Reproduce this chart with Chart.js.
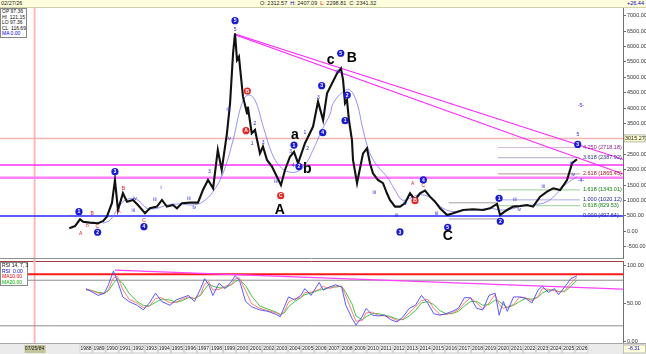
<!DOCTYPE html>
<html>
<head>
<meta charset="utf-8">
<script src="https://cdn.jsdelivr.net/npm/chart.js@4.4.1/dist/chart.umd.min.js"></script>
<style>
  body { margin:0; width:646px; height:354px; overflow:hidden; background:#fff; position:relative;
         font-family:"Liberation Sans", Arial, sans-serif; }
  #hdr { position:absolute; left:0; top:0; width:646px; height:8px; background:#ffffdc;
         border-bottom:1px solid #d0d0a8; box-sizing:border-box; font-size:5.5px; line-height:7px; color:#222; }
  #hdr span { position:absolute; top:0; white-space:nowrap; }
  canvas { position:absolute; left:0; }
  #cvMain { top:8px; }
  #cvRsi { top:259px; }
  .box { position:absolute; background:#fff; border:1px solid #888; font-size:5px; line-height:5.6px;
         padding:0 1px; white-space:nowrap; color:#111; }
</style>
</head>
<body>
<div id="hdr">
  <span style="left:1px">02/27/26</span>
  <span style="left:260px">O: 2312.57 &nbsp;<b style="color:#0000c0;font-weight:normal">H:</b> 2407.09 &nbsp;<b style="color:#d00000;font-weight:normal">L:</b> 2298.81 &nbsp;C: 2341.32</span>
  <span style="left:627px;color:#0000c0">+26.44</span>
</div>
<canvas id="cvMain" width="646" height="251"></canvas>
<canvas id="cvRsi" width="646" height="95"></canvas>
<div class="box" style="left:0;top:8px;width:23px">OP 97.36<br>HI &nbsp;121.15<br>LO 97.36<br>CL &nbsp;116.69<br><span style="color:#0000e0">MA 0.00</span></div>
<div class="box" style="left:0;top:262px;width:24px">RSI 14, 7, 3<br><span style="color:#0000e0">RSI &nbsp;0.00</span><br><span style="color:#e00000">MA10.00</span><br><span style="color:#00b000">MA20.00</span></div>
<script>
const priceX = [1987.22,1987.66,1988.04,1988.27,1988.8,1989.42,1989.8,1990.1,1990.49,1990.72,1990.95,1991.33,1991.64,
  1992.1,1992.48,1993.02,1993.4,1993.94,1994.32,1994.7,1995.16,1995.47,1995.85,1996.47,1997.08,1997.46,1997.85,
  1998.24,1998.6,1998.9,1999.3,1999.54,1999.77,1999.92,2000.07,2000.22,2000.53,2000.84,2000.9,2001.2,2001.45,
  2001.83,2002.06,2002.37,2002.75,2003.13,2003.44,2003.75,2004.13,2004.44,2004.75,2005.28,2005.9,2006.28,2006.67,
  2006.97,2007.36,2007.74,2008.04,2008.2,2008.35,2008.5,2008.65,2008.88,2008.96,2009.27,2009.42,2009.73,2010.03,
  2010.26,2010.49,2010.87,2011.26,2011.56,2011.79,2012.18,2012.56,2012.94,2013.33,2013.71,2014.09,2014.48,2014.86,
  2015.25,2015.63,2016.17,2016.63,2017.4,2018.16,2018.93,2019.46,2020.0,2020.23,2020.77,2021.23,2021.76,2022.3,
  2022.76,2023.3,2023.83,2024.3,2024.83,2025.36,2025.75,2026.12];
const priceY = [97,170,390,312,280,260,330,474,920,1666,690,1234,960,
  1016,854,585,747,800,1016,800,854,747,909,930,930,1340,1666,
  1396,2640,1990,3180,4156,5780,6430,5560,5670,4370,3830,4045,3180,3290,
  2530,2750,2315,2100,1770,1500,1990,2420,2580,2210,2860,3400,4210,3610,
  4480,4805,5130,5290,4910,4156,4260,3610,2960,2315,1560,1883,2530,2695,
  2210,1883,1666,1560,1234,1016,800,800,909,1234,1016,1234,1320,1124,
  960,747,530,585,692,715,692,747,887,530,692,800,822,854,
  800,1124,1285,1396,1340,1666,2210,2341];

// ---- moving average on price ----
const maX = [1989.8,1990.34,1990.87,1991.33,1992.1,1992.64,1993.17,1993.94,1994.7,1995.7,1996.7,1997.46,1998.23,
  1999.0,1999.77,2000.45,2000.92,2001.45,2002.08,2002.75,2003.37,2003.98,2004.67,2005.28,2005.9,2006.58,2007.2,
  2007.43,2008.19,2008.73,2009.27,2009.73,2010.26,2010.87,2011.56,2012.18,2012.72,2013.33,2013.94,2014.63,2015.25,
  2015.86,2016.63,2017.4,2018.47,2019.46,2020.23,2021.0,2021.76,2022.76,2023.83,2024.6,2025.36,2026.12];
const maY = [260,360,690,960,1070,960,747,747,854,887,854,960,1285,
  1883,2960,4155,4425,4260,3400,2530,2100,1935,1935,2152,2640,3290,3800,
  4150,4530,4590,4155,3290,2530,2100,1770,1340,1016,1070,1180,1146,960,
  747,640,692,692,747,692,715,800,854,960,1234,1560,1770];

// ---- horizontal levels and trend lines ----
const levelVals = [3015.27, 2150, 1740, 497.64];
const trendX = [1999.92, 2029.65];
const trend1Y = [6406, 2338];
const trend2Y = [6380, 1860];

// ---- fibonacci extension ----
const fibX = [2020.07, 2026.35];
const fibRatio = ['4.250','3.618','2.618','1.618','1.000','0.618','0.000'];
const fibPrice = [2718.18, 2387.92, 1865.45, 1343.01, 1020.12, 829.53, 497.64];
const anchorX = [2016.3, 2020.0];
const anchorY = [925, 400];

// ---- wave labels ----
const blueX = [1987.96,1989.39,1990.72,1992.94,1999.92,2004.44,2004.82,2006.56,2006.64,2008.02,2008.52,2008.35,
  2012.56,2014.35,2016.22,2020.15,2020.25,2026.18];
const blueY = [636,-32,1935,150,6840,2800,2100,4727,3201,5780,4425,3590,-20,1666,130,1070,325,2820];
const blueT = ['1','2','3','4','5','1','2','3','4','5','2','1','3','4','5','1','2','3'];
const redX = [2000.86,2000.76,2003.42,2013.71];
const redY = [4555,3266,1156,994];
const redT = ['B','A','C','B'];
const bigX = [2003.36,2004.51,2005.46,2007.25,2008.86,2016.22];
const bigY = [690,3127,2025,5560,5617,-150];
const bigT = ['A','a','b','c','B','C'];
const smallX = [1999.4,1999.48,1997.95,1996.39,1996.8,1994.25,1993.79,1992.25,1992.12,2001.45,2001.24,2002.08,
  2003.06,2004.18,2004.38,2005.28,2005.49,2006.3,2007.75,2010.59,2012.31,2012.94,2015.37,2021.37,2021.7,
  2023.54,2025.72,2025.84,2026.43,2026.2,2026.43,1999.92];
const smallY = [3940,2997,1935,1070,766,1417,1016,1070,669,3480,2860,2880,
  1610,2585,2120,3210,2695,4350,5180,1265,500,910,585,1016,715,
  1450,2210,1830,4070,3127,1643,6560];
const smallT = ['iii','iv','3','iii','iv','i','iii','iv','iii','2','1','3',
  'iii','3','4','1','2','3','iii','iii','iii','iv','iii','iii','iv',
  'iii','iii','iv','-5-','5','-4-','5'];
const redTxtX = [1988.09,1988.98,1989.36,1988.6,1991.03,1991.36,1992.94,2013.53,2014.35];
const redTxtY = [-66,560,150,172,636,1396,334,1536,1480];
const redTxtT = ['A','B','C','b','A','B','C','A','C'];

// ---- RSI pane ----
const rsiX = [1988.5,1988.81,1989.44,1989.91,1990.22,1990.6,1990.91,1991.32,1991.79,1992.42,1992.89,1993.36,1993.83,
  1994.3,1994.93,1995.4,1995.87,1996.34,1996.81,1997.28,1997.59,1997.91,1998.22,1998.69,1999.16,1999.63,1999.94,
  2000.26,2000.73,2001.2,2001.82,2002.45,2003.08,2003.39,2003.7,2004.02,2004.49,2004.96,2005.27,2005.74,2006.37,
  2006.68,2007.15,2007.62,2008.09,2008.41,2008.88,2009.19,2009.66,2009.97,2010.45,2010.92,2011.39,2011.86,2012.33,
  2012.8,2013.27,2013.74,2014.21,2014.68,2015.15,2015.62,2016.09,2016.56,2017.03,2017.5,2017.97,2018.44,2018.91,
  2019.38,2019.85,2020.16,2020.48,2020.79,2021.26,2021.73,2022.2,2022.67,2023.14,2023.46,2023.93,2024.4,2024.71,
  2025.18,2025.65,2026.12];
const rsiY = [69,66,60,63,74,92,79,58,52,47,41,50,63,52,47,54,57,60,52,69,82,74,60,76,69,78,86,
  80,52,45,41,39,35,32,45,58,54,60,69,60,77,67,71,74,71,47,30,21,32,43,34,33,34,28,25,
  32,43,47,60,50,36,34,36,39,43,57,57,43,41,60,63,34,52,39,58,58,56,50,67,72,64,69,61,71,82,86];
const ma10Y = [68,67,63,62,68,83,85,68,55,50,44,46,56,57,50,51,55,58,56,61,75,78,67,68,72,74,82,
  83,66,49,43,40,37,34,39,51,56,57,64,64,68,72,69,72,72,59,39,26,27,37,38,34,33,31,27,
  29,37,45,53,55,43,35,35,37,41,50,57,50,42,50,61,48,43,45,48,58,57,53,58,69,68,66,65,66,76,84];
const ma20Y = [67,67,64,63,66,76,82,76,63,52,47,46,51,55,54,51,53,57,56,60,68,75,72,70,70,74,78,
  81,73,59,46,42,38,35,37,45,52,57,61,63,67,68,71,71,72,64,49,33,28,32,36,36,34,32,29,
  28,33,40,50,52,48,40,36,36,39,46,52,52,47,48,54,52,48,44,47,52,56,55,58,63,67,67,65,65,72,80];
const rsiLevels = [88, 80, 20];
const rsiTrendX = [1990.72, 2029.65];
const rsiTrendY = [93.4, 68.4];

const yearLabels = [];
for (let y = 1988; y <= 2026; y++) yearLabels.push(y);
const priceTicks = [];
for (let v = -500; v <= 7000; v += 500) priceTicks.push(v);
const rsiTicks = [0, 50, 100];

const X_MIN = 1981.91, X_MAX = 2029.65, CURSOR = 1984.56;
const FONT = '"Liberation Sans", Arial, sans-serif';

const pts = (xs, ys) => xs.map((x, i) => ({ x, y: ys[i] }));
const seg = (xs, v) => [{ x: xs[0], y: v }, { x: xs[1], y: v }];
const ln = (data, color, w, extra) => Object.assign({ data, borderColor: color, borderWidth: w, pointRadius: 0, tension: 0, fill: false }, extra || {});

function fitAxis(s) { s.width = 23; s.paddingTop = 0; s.paddingBottom = 0; }

const axisY = (min, max, ticks) => ({
  position: 'right', min, max,
  afterBuildTicks: s => { s.ticks = ticks.map(v => ({ value: v })); },
  afterFit: fitAxis,
  grid: { drawOnChartArea: false, tickLength: 3, color: '#707070' },
  border: { color: '#707070' },
  ticks: { font: { size: 5.5, family: FONT }, color: '#333', padding: 1, callback: v => v.toFixed(2) },
});

function cursor(ch) {
  const { ctx, chartArea: a, scales: { x } } = ch;
  const px = x.getPixelForValue(CURSOR);
  ctx.save();
  ctx.strokeStyle = '#ffb8b8'; ctx.lineWidth = 2;
  ctx.beginPath(); ctx.moveTo(px, 0); ctx.lineTo(px, a.bottom); ctx.stroke();
  ctx.restore();
}

const mainDeco = {
  id: 'mainDeco',
  beforeDatasetsDraw(ch) { cursor(ch); },
  afterDatasetsDraw(ch) {
    const { ctx, chartArea: a, scales: { x, y } } = ch;
    ctx.save();
    ctx.textAlign = 'center'; ctx.textBaseline = 'middle';
    // small wave texts
    ctx.font = '5px ' + FONT; ctx.fillStyle = '#2a2ae0';
    smallX.forEach((v, i) => ctx.fillText(smallT[i], x.getPixelForValue(v), y.getPixelForValue(smallY[i])));
    ctx.fillStyle = '#e02020';
    redTxtX.forEach((v, i) => ctx.fillText(redTxtT[i], x.getPixelForValue(v), y.getPixelForValue(redTxtY[i])));
    // circles
    const circ = (xs, ys, ts, col) => xs.forEach((v, i) => {
      const cx = x.getPixelForValue(v), cy = y.getPixelForValue(ys[i]);
      ctx.fillStyle = col; ctx.beginPath(); ctx.arc(cx, cy, 3.6, 0, Math.PI * 2); ctx.fill();
      ctx.fillStyle = '#fff'; ctx.font = 'bold 5px ' + FONT; ctx.fillText(ts[i], cx, cy + 0.3);
    });
    circ(blueX, blueY, blueT, '#1a1ad0');
    circ(redX, redY, redT, '#e02828');
    // big letters
    ctx.fillStyle = '#000'; ctx.font = 'bold 14px ' + FONT;
    bigX.forEach((v, i) => ctx.fillText(bigT[i], x.getPixelForValue(v), y.getPixelForValue(bigY[i])));
    // fib labels
    const fibCol = ['#902090', '#303080', '#a01818', '#108010', '#202090', '#108010', '#202090'];
    ctx.font = '5.5px ' + FONT; ctx.textAlign = 'left';
    fibPrice.forEach((p, i) => {
      ctx.fillStyle = fibCol[i];
      ctx.fillText(fibRatio[i] + ' (' + p.toFixed(2) + ')', x.getPixelForValue(fibX[1]) + 3, y.getPixelForValue(p));
    });
    // last level marker on axis
    const ly = y.getPixelForValue(levelVals[0]);
    ctx.fillStyle = '#ffffd0'; ctx.strokeStyle = '#888'; ctx.lineWidth = 0.6;
    ctx.fillRect(a.right + 1, ly - 3.5, 21, 7); ctx.strokeRect(a.right + 1, ly - 3.5, 21, 7);
    ctx.fillStyle = '#222'; ctx.font = '5.5px ' + FONT;
    ctx.fillText(levelVals[0].toFixed(2), a.right + 2, ly);
    // pane bottom
    ctx.strokeStyle = '#909090'; ctx.lineWidth = 1;
    ctx.beginPath(); ctx.moveTo(0, a.bottom - 0.5); ctx.lineTo(a.right, a.bottom - 0.5); ctx.stroke();
    ctx.restore();
  }
};

new Chart(document.getElementById('cvMain'), {
  type: 'line',
  data: {
    datasets: [
      ln(pts(priceX, priceY), '#111', 2.1),
      ln(pts(maX, maY), '#7878ff', 0.8, { tension: 0.4 }),
      ln(pts(trendX, trend1Y), '#ff20ff', 1.1),
      ln(pts(trendX, trend2Y), '#ff20ff', 1.1),
      ln(seg([X_MIN, X_MAX], levelVals[0]), '#f7b4b4', 1.5),
      ln(seg([X_MIN, X_MAX], levelVals[1]), '#ff30ff', 1.6),
      ln(seg([X_MIN, X_MAX], levelVals[2]), '#ff80ff', 2.4),
      ln(seg([X_MIN, X_MAX], levelVals[3]), '#2828ff', 1.5),
      ln(seg(fibX, fibPrice[0]), '#d8b8d8', 1),
      ln(seg(fibX, fibPrice[1]), '#a8a8c8', 1),
      ln(seg(fibX, fibPrice[2]), '#c8a8a0', 1.3),
      ln(seg(fibX, fibPrice[3]), '#98d098', 1),
      ln(seg(fibX, fibPrice[4]), '#a8a8e8', 1),
      ln(seg(fibX, fibPrice[5]), '#98d098', 1),
      ln(seg(anchorX, anchorY[0]), '#a0a0a0', 1),
      ln(seg([anchorX[0], 2020.23], anchorY[1]), '#a0a0a0', 1),
    ]
  },
  options: {
    responsive: false, animation: false, devicePixelRatio: 1,
    layout: { padding: 0 },
    plugins: { legend: { display: false }, tooltip: { enabled: false } },
    scales: {
      x: { type: 'linear', min: X_MIN, max: X_MAX, display: false },
      y: axisY(-900, 7250, priceTicks),
    }
  },
  plugins: [mainDeco]
});

const rsiDeco = {
  id: 'rsiDeco',
  beforeDatasetsDraw(ch) {
    const { ctx, chartArea: a } = ch;
    ctx.save();
    ctx.strokeStyle = '#a04040'; ctx.lineWidth = 1;
    ctx.beginPath(); ctx.moveTo(0, a.top + 0.5); ctx.lineTo(a.right, a.top + 0.5); ctx.stroke();
    ctx.restore();
    cursor(ch);
  },
  afterDraw(ch) {
    const { ctx, chartArea: a, scales: { x } } = ch;
    ctx.save();
    // date strip
    ctx.fillStyle = '#ebebeb'; ctx.fillRect(0, a.bottom, ch.width, ch.height - a.bottom);
    ctx.strokeStyle = '#a8a8a8'; ctx.lineWidth = 1;
    ctx.beginPath(); ctx.moveTo(0, a.bottom + 0.5); ctx.lineTo(ch.width, a.bottom + 0.5); ctx.stroke();
    ctx.font = '5px ' + FONT; ctx.textAlign = 'center'; ctx.textBaseline = 'middle';
    const yb = a.bottom + 2, hb = 8;
    yearLabels.forEach(yr => {
      const cx = x.getPixelForValue(yr + 0.5);
      ctx.fillStyle = '#f6f6f6'; ctx.fillRect(cx - 6, yb, 12, hb);
      ctx.strokeStyle = '#c0c0c0'; ctx.lineWidth = 0.6; ctx.strokeRect(cx - 6, yb, 12, hb);
      ctx.fillStyle = '#222'; ctx.fillText(String(yr), cx, yb + hb / 2);
    });
    const cx = x.getPixelForValue(CURSOR);
    ctx.fillStyle = '#c4c49c'; ctx.fillRect(cx - 10, yb, 21, hb);
    ctx.fillStyle = '#222'; ctx.fillText('07/25/84', cx, yb + hb / 2);
    ctx.fillStyle = '#ffffdc'; ctx.fillRect(a.right, yb, ch.width - a.right, hb);
    ctx.strokeStyle = '#999'; ctx.strokeRect(a.right + 0.5, yb, ch.width - a.right - 1, hb);
    ctx.fillStyle = '#0000c0'; ctx.fillText('-8.31', a.right + 11, yb + hb / 2);
    ctx.restore();
  }
};

new Chart(document.getElementById('cvRsi'), {
  type: 'line',
  data: {
    datasets: [
      ln(pts(rsiX, rsiY), '#4848ff', 0.9),
      ln(pts(rsiX, ma10Y), '#ff7070', 0.9),
      ln(pts(rsiX, ma20Y), '#30c030', 0.9),
      ln(pts(rsiTrendX, rsiTrendY), '#ff40ff', 1.2),
      ln(seg([X_MIN, X_MAX], rsiLevels[0]), '#ff1818', 2),
      ln(seg([X_MIN, X_MAX], rsiLevels[1]), '#8c8c8c', 1),
      ln(seg([X_MIN, X_MAX], rsiLevels[2]), '#8c8c8c', 1),
    ]
  },
  options: {
    responsive: false, animation: false, devicePixelRatio: 1,
    layout: { padding: { top: 2, bottom: 11, left: 0, right: 0 } },
    plugins: { legend: { display: false }, tooltip: { enabled: false } },
    scales: {
      x: { type: 'linear', min: X_MIN, max: X_MAX, display: false },
      y: axisY(-2.6, 105.3, rsiTicks),
    }
  },
  plugins: [rsiDeco]
});
</script>
</body>
</html>
